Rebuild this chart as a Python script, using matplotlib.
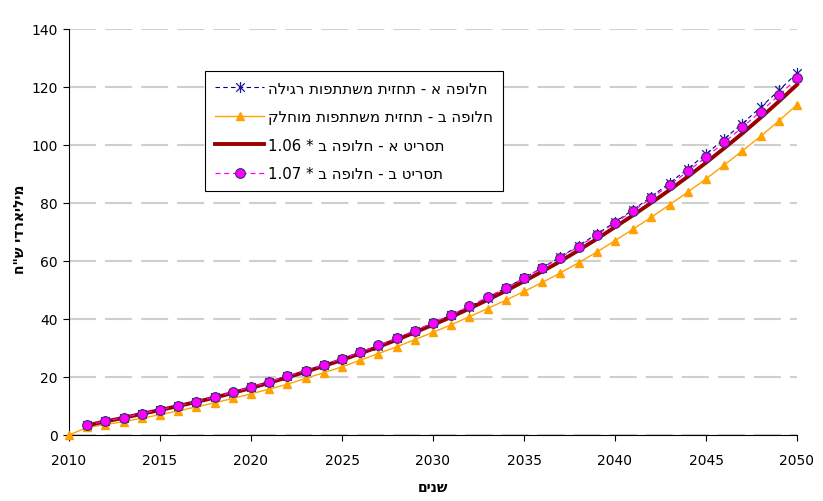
import matplotlib
matplotlib.use("Agg")
import matplotlib.pyplot as plt
from matplotlib.path import Path

plt.rcParams["font.family"] = ["DejaVu Sans"]
plt.rcParams["font.size"] = 10

# data (billions NIS)
years = list(range(2010, 2051))

alt_a = [None,
         3.3, 4.7, 5.9, 7.3, 8.6, 10.0, 11.4, 13.0, 14.6, 16.4,
         18.2, 20.2, 22.1, 24.1, 26.2, 28.5, 30.8, 33.3, 35.9, 38.6,
         41.4, 44.3, 47.4, 50.7, 54.1, 57.7, 61.4, 65.3, 69.3, 73.4,
         77.7, 82.2, 86.9, 91.8, 96.9, 102.1, 107.4, 113.0, 118.8, 124.8]

alt_b = [0.0,
         2.6, 3.6, 4.6, 5.8, 7.0, 8.3, 9.7, 11.1, 12.6, 14.2,
         15.8, 17.5, 19.5, 21.5, 23.5, 25.8, 28.1, 30.4, 32.9, 35.4,
         38.0, 40.8, 43.6, 46.5, 49.5, 52.6, 55.9, 59.4, 63.1, 67.0,
         71.0, 75.1, 79.4, 83.8, 88.3, 93.1, 98.0, 103.0, 108.3, 113.9]

scen_a = [None,
          3.3, 4.7, 5.9, 7.3, 8.6, 10.0, 11.4, 12.9, 14.5, 16.2,
          18.0, 19.9, 21.8, 23.8, 25.9, 28.1, 30.4, 32.8, 35.4, 38.0,
          40.7, 43.6, 46.6, 49.7, 53.0, 56.4, 59.9, 63.7, 67.6, 71.7,
          75.8, 80.1, 84.5, 89.1, 93.9, 98.9, 104.0, 109.4, 115.0, 120.8]

scen_b = [None,
          3.4, 4.8, 6.0, 7.4, 8.7, 10.1, 11.5, 13.1, 14.7, 16.5,
          18.3, 20.3, 22.2, 24.2, 26.3, 28.6, 30.9, 33.4, 36.0, 38.7,
          41.5, 44.4, 47.5, 50.7, 54.1, 57.6, 61.2, 65.0, 69.0, 73.1,
          77.3, 81.7, 86.2, 90.9, 95.8, 100.9, 106.1, 111.5, 117.1, 123.0]


def heb(s):
    # matplotlib has no bidi support, so put hebrew in visual order
    return s[::-1]


labels = [
    heb("חלופה א - תחזית משתתפות רגילה"),
    heb("חלופה ב - תחזית משתתפות מוחלק"),
    "1.06 * " + heb("תסריט א - חלופה ב"),
    "1.07 * " + heb("תסריט ב - חלופה ב"),
]

# excel style asterisk: an x with a vertical bar
star = Path([(-1, -1), (1, 1), (-1, 1), (1, -1), (0, -1.3), (0, 1.3)],
            [Path.MOVETO, Path.LINETO, Path.MOVETO, Path.LINETO, Path.MOVETO, Path.LINETO])

fig, ax = plt.subplots(figsize=(8.23, 5.02), dpi=100)
fig.subplots_adjust(left=69/823, right=797/823, top=1-30/502, bottom=1-436/502)

ax.plot(years, alt_a, color="#000080", linestyle=(0, (4, 3)), linewidth=0.8,
        marker=star, markersize=8, markeredgecolor="#1a1a9a", markeredgewidth=0.9,
        label=labels[0], clip_on=False, zorder=3)
ax.plot(years, alt_b, color="#FFA200", linewidth=1.0,
        marker="^", markersize=5.5, markerfacecolor="#FFA200", markeredgecolor="#FFA200",
        label=labels[1], clip_on=False, zorder=4)
ax.plot(years, scen_a, color="#990000", linewidth=2.8,
        label=labels[2], clip_on=False, zorder=5)
ax.plot(years, scen_b, color="#FF00FF", linestyle=(0, (4, 3)), linewidth=0.9,
        marker="o", markersize=7, markerfacecolor="#FF00FF", markeredgecolor="#333366",
        markeredgewidth=0.8, label=labels[3], clip_on=False, zorder=6)

ax.set_xlim(2010, 2050)
ax.set_ylim(0, 140)
ax.set_xticks(range(2010, 2051, 5))
ax.set_yticks(range(0, 141, 20))

ax.spines["top"].set_visible(False)
ax.spines["right"].set_visible(False)
ax.tick_params(axis="x", direction="out", length=4, width=0.8, pad=9)
ax.tick_params(axis="y", direction="out", length=4, width=0.8, pad=4)

ax.yaxis.grid(True, color="#CFCFCF", linewidth=1.5, linestyle=(0, (13, 4.3)))
ax.set_axisbelow(True)

ax.set_xlabel(heb("שנים"), fontweight="bold", labelpad=9)
ax.set_ylabel(heb('מיליארדי ש"ח'), fontweight="bold")
ax.yaxis.set_label_coords(-0.058, 0.51)

leg = ax.legend(loc="upper left", bbox_to_anchor=(0.187, 0.897), frameon=True,
                fancybox=False, edgecolor="black", framealpha=1, fontsize=10.8,
                handlelength=3.3, labelspacing=0.9, borderpad=0.65, handletextpad=0.25,
                borderaxespad=0)
leg.get_frame().set_linewidth(0.8)

fig.savefig("out.png", dpi=100)
